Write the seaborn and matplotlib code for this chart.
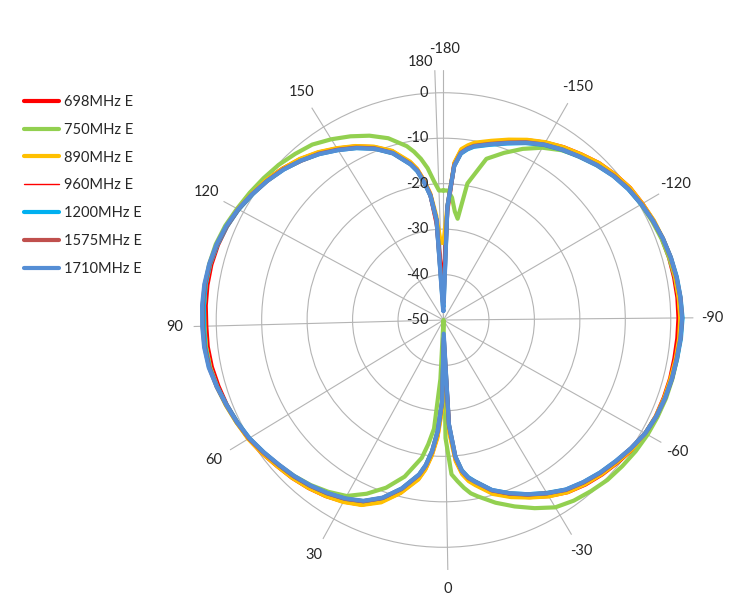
import numpy as np
import pandas as pd
import seaborn as sns
import matplotlib.pyplot as plt

angles = [-180, -178, -176, -174, -172, -170, -165, -160, -155, -150,
          -145, -140, -135, -130, -125, -120, -115, -110, -105, -100,
          -95, -90, -85, -80, -75, -70, -65, -60, -55, -50,
          -45, -40, -35, -30, -25, -20, -15, -10, -8, -6,
          -4, -2, 0, 2, 4, 6, 8, 10, 15, 20,
          25, 30, 35, 40, 45, 50, 55, 60, 65, 70,
          75, 80, 85, 90, 95, 100, 105, 110, 115, 120,
          125, 130, 135, 140, 145, 150, 155, 160, 165, 170,
          172, 174, 176, 178, 180]

e698 = [-42, -26, -15.5, -12.5, -11.4, -10.6, -9.4, -8.0, -6.4, -5.0,
        -3.7, -2.6, -1.4, -0.5, 0.3, 0.7, 1.1, 1.3, 1.5, 1.6,
        1.7, 1.7, 1.6, 1.5, 1.5, 1.4, 1.3, 1.0, 0.4, -0.5,
        -1.3, -2.2, -3.3, -4.9, -6.7, -8.5, -10.4, -13.2, -14.3, -16.0,
        -19.2, -26, -44, -31, -24.5, -20.3, -17.0, -14.7, -10.9, -7.8,
        -5.6, -4.4, -3.4, -2.6, -1.9, -1.3, -0.5, 0.2, 0.7, 1.2,
        1.6, 2.0, 2.2, 2.2, 2.4, 2.5, 2.5, 2.3, 1.9, 1.3,
        0.5, -0.3, -1.4, -2.6, -4.0, -5.6, -7.2, -9.0, -11.2, -14.6,
        -16.4, -19.1, -22.3, -29, -42]
e750 = [-21.5, -21.5, -23, -26, -27.5, -19.5, -13.3, -10.9, -8.5, -6.3,
        -4.5, -3.1, -1.9, -0.8, 0.0, 0.4, 0.8, 1.2, 1.5, 1.8,
        2.0, 2.2, 2.2, 2.1, 2.0, 1.9, 1.7, 1.5, 1.2, 0.8,
        0.4, -0.3, -1.0, -2.0, -4.0, -6.1, -8.2, -10.5, -11.4, -12.8,
        -14.4, -16.0, -24, -50, -37, -26, -22.5, -19.3, -14.5, -11.0,
        -8.2, -5.8, -4.5, -3.4, -2.5, -1.7, -0.8, 0.1, 0.8, 1.4,
        2.0, 2.4, 2.6, 2.6, 2.8, 3.0, 3.0, 2.8, 2.3, 1.6,
        1.0, 0.4, -0.2, -1.0, -1.8, -3.2, -4.7, -6.3, -8.2, -10.9,
        -12.4, -14.2, -16.4, -19.3, -21.5]
e890 = [-33, -25, -15.3, -12.2, -11.2, -10.4, -9.2, -7.8, -6.3, -4.9,
        -3.7, -2.6, -1.4, -0.5, 0.3, 0.7, 1.2, 1.5, 1.8, 1.9,
        2.0, 2.1, 2.0, 1.8, 1.6, 1.5, 1.3, 0.9, 0.3, -0.6,
        -1.4, -2.3, -3.3, -4.8, -6.6, -8.3, -10.2, -13.0, -14.1, -15.8,
        -18.8, -25, -40, -30, -24, -20, -16.8, -14.5, -10.8, -7.6,
        -5.5, -4.3, -3.4, -2.6, -1.9, -1.3, -0.5, 0.3, 0.8, 1.4,
        1.9, 2.4, 2.6, 2.7, 2.8, 2.9, 2.8, 2.5, 2.0, 1.4,
        0.5, -0.3, -1.4, -2.5, -3.9, -5.5, -7.1, -8.9, -11.1, -14.4,
        -16.2, -18.9, -22, -27, -33]
e960 = [-45, -25, -15.8, -12.9, -11.8, -11.0, -9.8, -8.4, -6.9, -5.4,
        -4.2, -3.1, -1.9, -0.9, -0.05, 0.5, 1.0, 1.4, 1.75, 2.0,
        2.2, 2.3, 2.2, 1.9, 1.8, 1.6, 1.4, 0.9, 0.1, -0.8,
        -1.7, -2.6, -3.8, -5.3, -7.1, -8.8, -10.8, -13.6, -14.7, -16.4,
        -19.5, -26.5, -45, -31.5, -25, -20.7, -17.5, -15.3, -11.5, -8.4,
        -6.3, -5.0, -4.0, -3.1, -2.3, -1.6, -0.8, 0.1, 0.7, 1.3,
        1.9, 2.5, 2.8, 2.9, 3.0, 3.0, 2.9, 2.5, 2.0, 1.3,
        0.4, -0.5, -1.6, -2.9, -4.3, -5.9, -7.5, -9.3, -11.5, -14.9,
        -16.6, -19.3, -22.4, -28, -45]
e1200 = [-47, -25, -16.1, -13.2, -12.1, -11.3, -10.1, -8.7, -7.1, -5.6,
         -4.4, -3.3, -2.1, -1.0, -0.2, 0.4, 1.0, 1.5, 1.9, 2.2,
         2.4, 2.6, 2.4, 2.1, 1.9, 1.7, 1.4, 0.9, 0.0, -1.0,
         -1.9, -2.9, -4.0, -5.7, -7.4, -9.2, -11.1, -13.9, -15.0, -16.7,
         -19.9, -27, -46, -32, -25.6, -21.1, -17.9, -15.6, -11.8, -8.6,
         -6.4, -5.1, -4.1, -3.2, -2.4, -1.7, -0.9, 0.0, 0.6, 1.2,
         1.9, 2.5, 2.7, 2.7, 2.8, 2.9, 2.8, 2.4, 1.9, 1.2,
         0.3, -0.6, -1.7, -3.0, -4.4, -6.0, -7.6, -9.4, -11.7, -15.0,
         -16.8, -19.5, -22.6, -28, -47]
e1575 = [-46, -25, -15.9, -13.0, -11.9, -11.1, -9.9, -8.5, -6.9, -5.5,
         -4.3, -3.2, -2.0, -0.9, -0.1, 0.5, 1.0, 1.5, 1.85, 2.1,
         2.35, 2.5, 2.3, 2.0, 1.9, 1.7, 1.4, 0.9, 0.0, -0.9,
         -1.8, -2.8, -3.9, -5.6, -7.3, -9.1, -11.0, -13.8, -14.8, -16.5,
         -19.7, -26.8, -46, -31.8, -25.4, -20.9, -17.7, -15.5, -11.7, -8.6,
         -6.4, -5.1, -4.1, -3.2, -2.4, -1.7, -0.8, 0.1, 0.7, 1.3,
         2.0, 2.6, 2.9, 3.0, 3.1, 3.1, 2.9, 2.55, 2.0, 1.3,
         0.4, -0.6, -1.6, -3.0, -4.3, -5.9, -7.5, -9.3, -11.6, -14.9,
         -16.6, -19.3, -22.4, -28, -46]
e1710 = [-48, -25, -16.0, -13.1, -12.0, -11.2, -10.0, -8.6, -7.0, -5.5,
         -4.3, -3.2, -2.0, -1.0, -0.15, 0.45, 1.0, 1.5, 1.85, 2.15,
         2.35, 2.5, 2.3, 2.05, 1.9, 1.7, 1.4, 0.9, 0.0, -1.0,
         -1.9, -2.9, -4.0, -5.6, -7.4, -9.2, -11.1, -13.8, -14.9, -16.6,
         -19.8, -27, -47, -32, -25.5, -21, -17.8, -15.6, -11.8, -8.7,
         -6.5, -5.2, -4.2, -3.3, -2.5, -1.8, -0.9, 0.0, 0.7, 1.3,
         2.0, 2.7, 3.0, 3.1, 3.2, 3.2, 3.0, 2.65, 2.1, 1.35,
         0.4, -0.6, -1.7, -2.95, -4.4, -6.0, -7.6, -9.4, -11.6, -15.0,
         -16.7, -19.4, -22.5, -28, -48]

series_names = ['698MHz E', '750MHz E', '890MHz E', '960MHz E', '1200MHz E', '1575MHz E', '1710MHz E']
series_vals = [e698, e750, e890, e960, e1200, e1575, e1710]
colors = ['#FF0000', '#92D050', '#FFC000', '#FF0000', '#00B0F0', '#C0504D', '#558ED5']
widths = [3.0, 3.0, 3.0, 1.0, 3.0, 3.0, 3.0]

spoke_angles = [-180, -150, -120, -90, -60, -30, 0, 30, 60, 90, 120, 150, 180]
ring_levels = [0, -10, -20, -30, -40, -50]


def radar_pos(a):
    # excel radar: 181 categories (-180..180 step 2) spread round the full circle
    return np.deg2rad((np.asarray(a, dtype=float) + 180) / 2 * 360 / 181)


sns.set_style('white')
plt.rcParams['font.family'] = ['Lato', 'DejaVu Sans']
txt_color = '#262626'
grid_color = '#B4B4B4'

fig = plt.figure(figsize=(7.32, 6.0), dpi=100)
ax = fig.add_axes([0.2643, 0.05, 0.6831, 0.8333], projection='polar')
ax.set_theta_zero_location('N')
ax.set_theta_direction(-1)

handles = []
for name, vals, c, w in zip(series_names, series_vals, colors, widths):
    pos = radar_pos(angles)
    df = pd.DataFrame({'pos': np.append(pos, pos[0] + 2 * np.pi),
                       'level': vals + [vals[0]]})
    sns.lineplot(data=df, x='pos', y='level', ax=ax, color=c, linewidth=w,
                 sort=False, estimator=None, label=name)
    handles.append(ax.get_lines()[-1])

ax.set_ylim(-50, 5)
ax.set_xlabel('')
ax.set_ylabel('')
if ax.get_legend() is not None:
    ax.get_legend().remove()

ax.set_xticks(radar_pos(spoke_angles))
ax.set_xticklabels([str(a) if abs(a) != 180 else '' for a in spoke_angles])
ax.tick_params(axis='x', pad=3, labelsize=10.5, colors=txt_color)
ax.set_yticks([-40, -30, -20, -10, 0])
ax.set_yticklabels([])
ax.grid(True, color=grid_color, linewidth=0.8)
ax.spines['polar'].set_visible(False)

# -180 and 180 share the top, so they are staggered like in excel
ax.annotate('-180', xy=(radar_pos(-180), 5), xytext=(1, 15), textcoords='offset points',
            ha='center', va='center', fontsize=10.5, color=txt_color)
ax.annotate('180', xy=(radar_pos(180), 5), xytext=(-10, 6), textcoords='offset points',
            ha='center', va='center', fontsize=10.5, color=txt_color)

for lv in ring_levels:
    ax.annotate(str(lv), xy=(0, lv), xytext=(-11, 0), textcoords='offset points',
                ha='right', va='center', fontsize=10.5, color=txt_color)

fig.legend(handles, series_names, loc='upper left', bbox_to_anchor=(0.033, 0.842),
           frameon=False, fontsize=10.5, handlelength=2.4, handletextpad=0.3,
           labelspacing=0.95, borderpad=0, borderaxespad=0)

fig.savefig('out.png', dpi=100)
